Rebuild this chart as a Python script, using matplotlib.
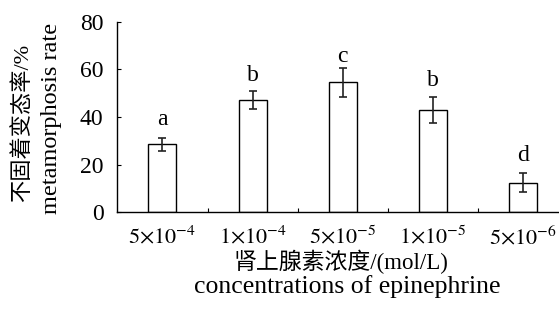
"""Metamorphosis rate vs epinephrine concentration"""

import matplotlib
matplotlib.use('Agg')
import matplotlib.pyplot as plt
import numpy as np

plt.rcParams['font.family'] = ['Liberation Serif', 'Noto Sans CJK SC']
plt.rcParams['mathtext.fontset'] = 'stix'

# data
concentrations = [r'$5{\times}10^{-4}$', r'$1{\times}10^{-4}$', r'$5{\times}10^{-5}$',
                  r'$1{\times}10^{-5}$', r'$5{\times}10^{-6}$']
rates = [28.5, 47.0, 54.6, 42.8, 12.3]
errors = [2.8, 3.7, 6.1, 5.5, 4.0]
letters = ['a', 'b', 'c', 'b', 'd']
letter_y = [36.6, 55.1, 62.9, 53.0, 21.5]

fig = plt.figure(figsize=(5.59, 3.14), dpi=100)
ax = fig.add_axes([0.210, 0.324, 0.790, 0.607])

x = np.arange(len(rates))
ax.bar(x, rates, width=0.31, color='white', edgecolor='black', linewidth=1.0)
ax.errorbar(x, rates, yerr=errors, fmt='none', ecolor='#222222',
            elinewidth=1.2, capsize=3, capthick=1.2)

for xi, lab, ly in zip(x, letters, letter_y):
    ax.text(xi, ly, lab, ha='center', va='baseline', fontsize=17)

ax.set_xlim(-0.5, 4.4)
ax.set_ylim(0, 80)
ax.set_yticks([0, 20, 40, 60, 80])
ax.tick_params(axis='y', direction='in', length=3, width=0.8, labelsize=17, pad=10)

ax.set_xticks(x)
ax.set_xticklabels(concentrations)
ax.tick_params(axis='x', which='major', length=0, labelsize=16, pad=10)
ax.set_xticks(np.arange(0.5, 4.0, 1.0), minor=True)
ax.tick_params(axis='x', which='minor', direction='in', length=3, width=0.8)

for side in ['top', 'right']:
    ax.spines[side].set_visible(False)
for side in ['left', 'bottom']:
    ax.spines[side].set_linewidth(1.0)

# two-line y label
fig.text(0.040, 0.607, '不固着变态率/%', rotation=90, ha='center', va='center', fontsize=16)
fig.text(0.093, 0.623, 'metamorphosis rate', rotation=90, ha='center', va='center', fontsize=17.5)

# two-line x label
fig.text(0.610, 0.166, '肾上腺素浓度/(mol/L)', ha='center', va='center', fontsize=16.5)
fig.text(0.622, 0.086, 'concentrations of epinephrine', ha='center', va='center', fontsize=18.5)

plt.savefig('out.png', dpi=100)
plt.close()
